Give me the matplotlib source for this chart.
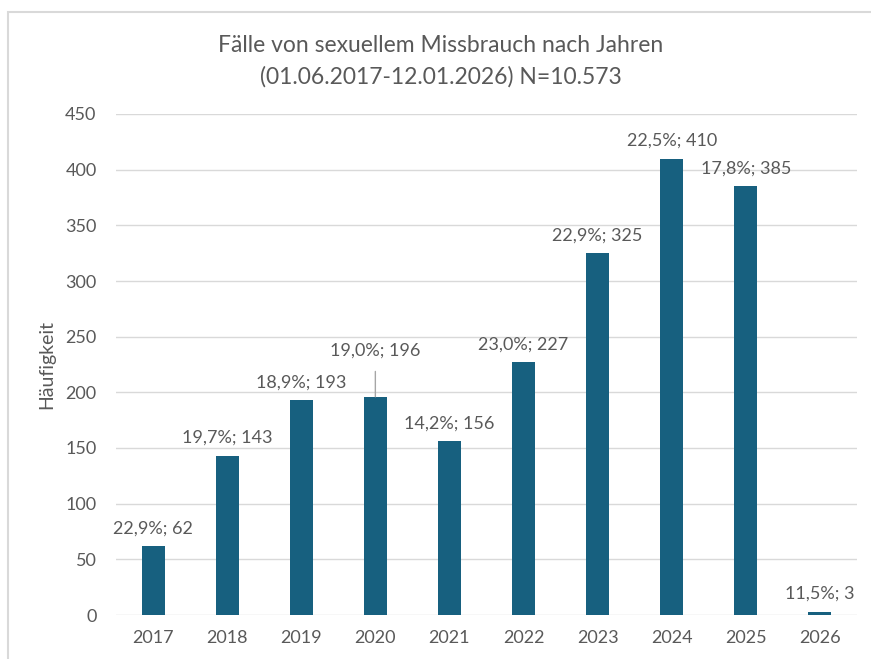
import matplotlib

matplotlib.use("Agg")
import matplotlib.pyplot as plt
from matplotlib.patches import Rectangle

plt.rcParams["font.family"] = ["Lato", "DejaVu Sans"]

years = ["2017", "2018", "2019", "2020", "2021", "2022", "2023", "2024", "2025", "2026"]
counts = [62, 143, 193, 196, 156, 227, 325, 410, 385, 3]
shares = ["22,9%", "19,7%", "18,9%", "19,0%", "14,2%", "23,0%", "22,9%", "22,5%", "17,8%", "11,5%"]
y_ticks = [0, 50, 100, 150, 200, 250, 300, 350, 400, 450]

BAR = "#17607F"
TEXT = "#595959"
GRID = "#D9D9D9"

fig = plt.figure(figsize=(8.71, 6.59), dpi=100)
ax = fig.add_axes([116 / 871, 1 - 615 / 659, 741 / 871, 501 / 659])

# chart frame (only top and left visible in the original crop)
fig.patches.append(Rectangle((8 / 871, -0.05), 1.1, 1 - 11.5 / 659 + 0.05, transform=fig.transFigure,
                             fill=False, edgecolor=GRID, linewidth=1.5))

x = range(len(years))
ax.bar(x, counts, width=0.31, color=BAR, zorder=3)

ax.set_xlim(-0.5, len(years) - 0.5)
ax.set_ylim(0, 450)
ax.set_yticks(y_ticks)
ax.set_xticks(list(x))
ax.set_xticklabels(years)
ax.tick_params(axis="both", length=0, labelsize=13, labelcolor=TEXT)
ax.tick_params(axis="y", pad=14)
ax.tick_params(axis="x", pad=11)
ax.grid(axis="y", color=GRID, linewidth=1.0, zorder=0)
for s in ax.spines.values():
    s.set_visible(False)
ax.set_ylabel("Häufigkeit", fontsize=14, color=TEXT, labelpad=7)

for i, (c, p) in enumerate(zip(counts, shares)):
    label = f"{p}; {c}"
    if years[i] == "2020":
        ax.annotate(label, (i, c), xytext=(0, 33), textcoords="offset points", ha="center", va="center",
                    fontsize=13, color=TEXT,
                    arrowprops=dict(arrowstyle="-", color="#A6A6A6", lw=1.0, shrinkA=7, shrinkB=0))
    else:
        ax.annotate(label, (i, c), xytext=(0, 7), textcoords="offset points", ha="center", va="bottom",
                    fontsize=13, color=TEXT)

fig.text(441 / 871, 1 - 46 / 659, "Fälle von sexuellem Missbrauch nach Jahren", ha="center", va="center",
         fontsize=16.5, color=TEXT)
fig.text(441 / 871, 1 - 77 / 659, "(01.06.2017-12.01.2026) N=10.573", ha="center", va="center",
         fontsize=16.5, color=TEXT)

fig.savefig("out.png", dpi=100)
plt.close(fig)
